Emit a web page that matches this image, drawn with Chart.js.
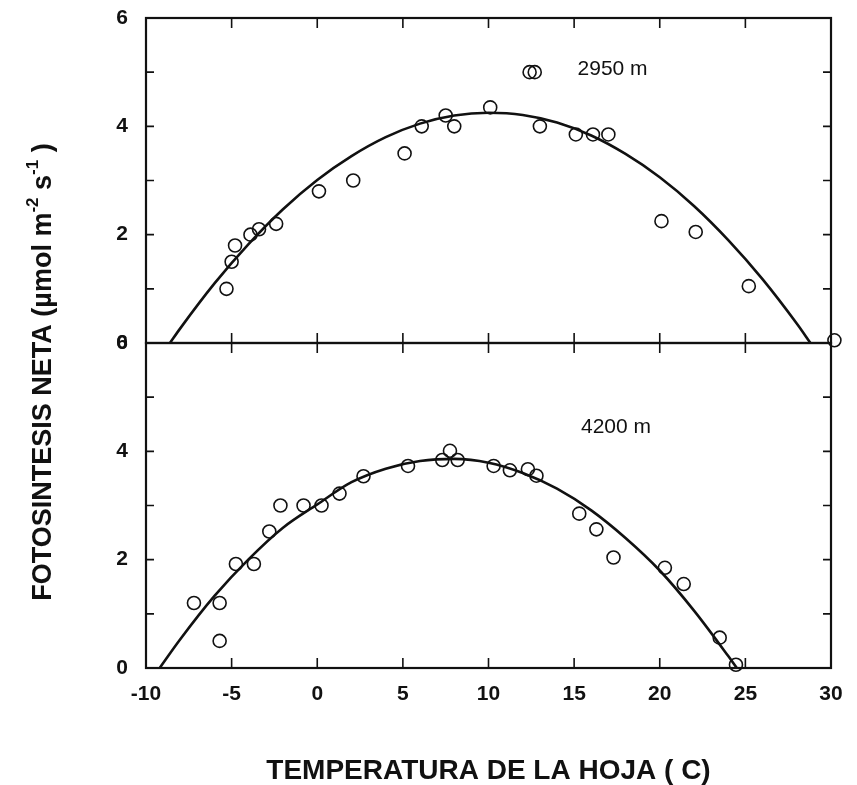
<!DOCTYPE html>
<html>
<head>
<meta charset="utf-8">
<script src="https://cdn.jsdelivr.net/npm/chart.js@4.4.0/dist/chart.umd.min.js"></script>
<style>
  html, body { margin: 0; padding: 0; background: #fff; }
  #wrap { position: relative; width: 857px; height: 785px; }
  #wrap canvas { position: absolute; left: 0; top: 0; }
</style>
</head>
<body>
<div id="wrap">
  <canvas id="topChart" width="857" height="785"></canvas>
  <canvas id="bottomChart" width="857" height="785"></canvas>
</div>
<script>
// x axis
const xTicks = [-10, -5, 0, 5, 10, 15, 20, 25, 30];
const yTicks = [0, 2, 4, 6];

// 2950 m, measured points
const temp2950  = [-5.3, -5.0, -4.8, -3.9, -3.4, -2.4, 0.1, 2.1, 5.1, 6.1, 7.5, 8.0, 10.1, 12.4, 12.7, 13.0, 15.1, 16.1, 17.0, 20.1, 22.1, 25.2, 30.2];
const photo2950 = [1.0, 1.5, 1.8, 2.0, 2.1, 2.2, 2.8, 3.0, 3.5, 4.0, 4.2, 4.0, 4.35, 5.0, 5.0, 4.0, 3.85, 3.85, 3.85, 2.25, 2.05, 1.05, 0.05];
// 2950 m, fitted curve
const fitTemp2950 = [-8.6, -8, -6, -4, -2, 0, 2, 4, 6, 8, 10, 12, 14, 16, 18, 20, 22, 24, 26, 28, 28.8];
const fit2950     = [0, 0.27, 1.10, 1.83, 2.47, 3.01, 3.45, 3.80, 4.05, 4.20, 4.25, 4.21, 4.07, 3.83, 3.49, 3.06, 2.53, 1.90, 1.18, 0.36, 0];

// 4200 m, measured points
const temp4200  = [-7.2, -5.7, -5.7, -4.75, -3.7, -2.8, -2.15, -0.8, 0.25, 1.3, 2.7, 5.3, 7.3, 7.75, 8.2, 10.3, 11.25, 12.3, 12.8, 15.3, 16.3, 17.3, 20.3, 21.4, 23.5, 24.45];
const photo4200 = [1.2, 1.2, 0.5, 1.92, 1.92, 2.52, 3.0, 3.0, 3.0, 3.22, 3.54, 3.73, 3.84, 4.01, 3.84, 3.73, 3.65, 3.67, 3.55, 2.85, 2.56, 2.04, 1.85, 1.55, 0.56, 0.06];
// 4200 m, fitted curve
const fitTemp4200 = [-9.2, -8, -6, -4, -2, 0, 2, 4, 6, 8, 10, 12, 14, 16, 18, 20, 22, 24, 24.5];
const fit4200     = [0, 0.53, 1.33, 2.01, 2.59, 3.02, 3.43, 3.68, 3.82, 3.86, 3.79, 3.60, 3.31, 2.91, 2.40, 1.80, 1.06, 0.22, 0];

const INK = '#111';
const FONT = "'Liberation Sans', Arial, sans-serif";

function toPoints(xs, ys) {
	return xs.map((x, i) => ({ x: x, y: ys[i] }));
}

function panelDatasets(xs, ys, fitXs, fitYs) {
	return [
		{
			type: 'scatter',
			data: toPoints(xs, ys),
			pointStyle: 'circle',
			pointRadius: 6.5,
			pointBorderWidth: 1.6,
			pointBorderColor: INK,
			pointBackgroundColor: 'rgba(0,0,0,0)',
			clip: false
		},
		{
			type: 'line',
			data: toPoints(fitXs, fitYs),
			borderColor: INK,
			borderWidth: 2.6,
			pointRadius: 0,
			cubicInterpolationMode: 'monotone',
			fill: false
		}
	];
}

// frame box with inward ticks on all sides
const frameTicks = {
	id: 'frameTicks',
	afterDatasetsDraw(chart) {
		const ctx = chart.ctx;
		const a = chart.chartArea;
		const x = chart.scales.x;
		const y = chart.scales.y;
		ctx.save();
		ctx.strokeStyle = INK;
		ctx.lineWidth = 1.6;
		ctx.beginPath();
		xTicks.forEach(v => {
			if (v === x.min || v === x.max) return;
			const px = x.getPixelForValue(v);
			ctx.moveTo(px, a.top); ctx.lineTo(px, a.top + 10);
			ctx.moveTo(px, a.bottom); ctx.lineTo(px, a.bottom - 10);
		});
		for (let v = y.min + 1; v < y.max; v++) {
			const py = y.getPixelForValue(v);
			ctx.moveTo(a.left, py); ctx.lineTo(a.left + 8, py);
			ctx.moveTo(a.right, py); ctx.lineTo(a.right - 8, py);
		}
		ctx.stroke();
		ctx.lineWidth = 2.2;
		ctx.strokeRect(a.left, a.top, a.right - a.left, a.bottom - a.top);
		ctx.restore();
	}
};

// altitude label inside each panel
const panelLabel = {
	id: 'panelLabel',
	afterDraw(chart, args, opts) {
		const ctx = chart.ctx;
		ctx.save();
		ctx.fillStyle = INK;
		ctx.font = '21px ' + FONT;
		ctx.textBaseline = 'middle';
		ctx.fillText(opts.text, chart.scales.x.getPixelForValue(opts.x), chart.scales.y.getPixelForValue(opts.y));
		ctx.restore();
	}
};

// rotated y title spanning both panels, with superscripts
const yTitle = {
	id: 'yTitle',
	afterDraw(chart, args, opts) {
		if (!opts.show) return;
		const ctx = chart.ctx;
		const parts = [
			{ t: 'FOTOSINTESIS NETA (\u00b5mol m', sup: false },
			{ t: '-2', sup: true },
			{ t: ' s', sup: false },
			{ t: '-1', sup: true },
			{ t: ' )', sup: false }
		];
		const big = 'bold 27px ' + FONT;
		const small = 'bold 17px ' + FONT;
		ctx.save();
		let total = 0;
		parts.forEach(p => { ctx.font = p.sup ? small : big; p.w = ctx.measureText(p.t).width; total += p.w; });
		ctx.translate(opts.cx, opts.cy);
		ctx.rotate(-Math.PI / 2);
		ctx.fillStyle = INK;
		ctx.textBaseline = 'middle';
		let pos = -total / 2;
		parts.forEach(p => {
			ctx.font = p.sup ? small : big;
			ctx.fillText(p.t, pos, p.sup ? -11 : 0);
			pos += p.w;
		});
		ctx.restore();
	}
};

function yScale() {
	return {
		min: 0,
		max: 6,
		afterFit: s => { s.width = 146; s.paddingTop = 0; s.paddingBottom = 0; },
		afterBuildTicks: s => { s.ticks = yTicks.map(v => ({ value: v })); },
		grid: { display: false, drawTicks: false },
		border: { display: false },
		ticks: {
			padding: 18,
			color: INK,
			font: { family: FONT, size: 21, weight: 'bold' }
		}
	};
}

function xScale(show) {
	return {
		type: 'linear',
		min: -10,
		max: 30,
		display: show,
		afterFit: s => { if (show) s.height = 117; s.paddingLeft = 0; s.paddingRight = 0; },
		afterBuildTicks: s => { s.ticks = xTicks.map(v => ({ value: v })); },
		grid: { display: false, drawTicks: false },
		border: { display: false },
		ticks: {
			padding: 14,
			color: INK,
			maxRotation: 0,
			font: { family: FONT, size: 21, weight: 'bold' }
		},
		title: {
			display: true,
			text: 'TEMPERATURA DE LA HOJA ( C)',
			color: INK,
			font: { family: FONT, size: 28, weight: 'bold' },
			padding: { top: 0, bottom: -3 }
		}
	};
}

function MakePanel(canvasId, datasets, pad, showX, label, showTitle) {
	return new Chart(document.getElementById(canvasId), {
		data: { datasets: datasets },
		options: {
			responsive: false,
			animation: false,
			devicePixelRatio: 1,
			layout: { padding: pad },
			plugins: {
				legend: { display: false },
				tooltip: { enabled: false },
				panelLabel: label,
				yTitle: { show: showTitle, cx: 44, cy: 372 }
			},
			scales: { x: xScale(showX), y: yScale() }
		},
		plugins: [frameTicks, panelLabel, yTitle]
	});
}

MakePanel('topChart', panelDatasets(temp2950, photo2950, fitTemp2950, fit2950),
	{ left: 0, right: 26, top: 18, bottom: 442 }, false, { text: '2950 m', x: 15.2, y: 5.05 }, false);
MakePanel('bottomChart', panelDatasets(temp4200, photo4200, fitTemp4200, fit4200),
	{ left: 0, right: 26, top: 343, bottom: 0 }, true, { text: '4200 m', x: 15.4, y: 4.45 }, true);
</script>
</body>
</html>
